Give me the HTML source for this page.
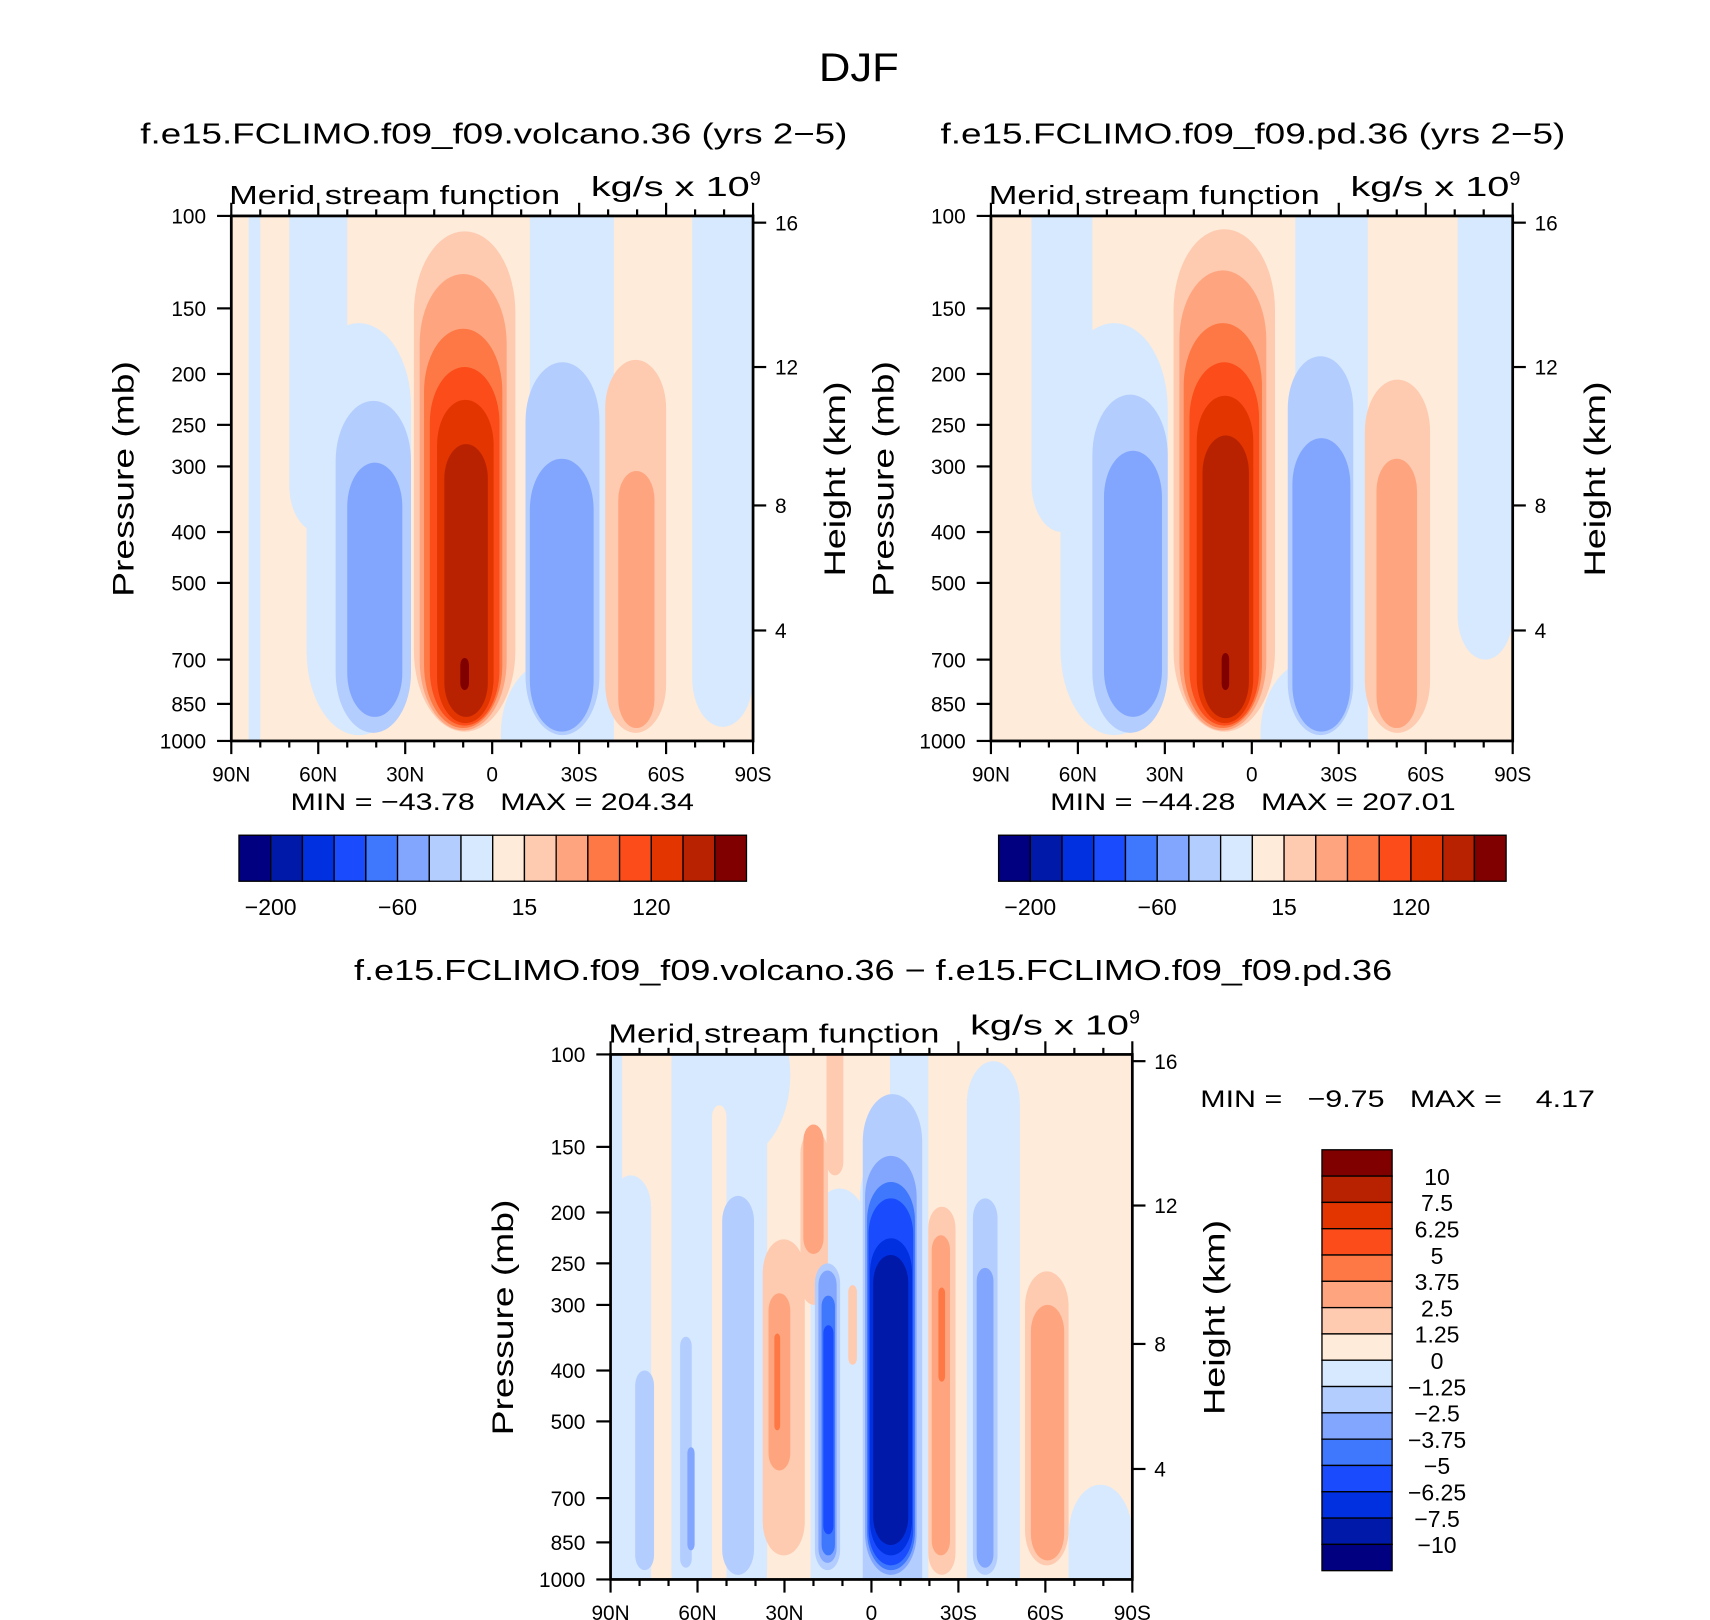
<!DOCTYPE html>
<html><head><meta charset="utf-8"><style>
html,body{margin:0;padding:0;background:#fff;}
svg{display:block;font-family:"Liberation Sans",sans-serif;}
</style></head><body>
<svg id="fig" xmlns="http://www.w3.org/2000/svg" width="1710" height="1620" viewBox="0 0 1560 1478" preserveAspectRatio="none">
<rect width="1560" height="1478" fill="#fff"/>
<text x="747" y="74" font-size="36" textLength="73" lengthAdjust="spacingAndGlyphs">DJF</text>
<text x="128" y="131" font-size="26" textLength="645" lengthAdjust="spacingAndGlyphs">f.e15.FCLIMO.f09_f09.volcano.36 (yrs 2−5)</text>
<text x="858" y="131" font-size="26" textLength="570" lengthAdjust="spacingAndGlyphs">f.e15.FCLIMO.f09_f09.pd.36 (yrs 2−5)</text>
<text x="323" y="894" font-size="26" textLength="947" lengthAdjust="spacingAndGlyphs">f.e15.FCLIMO.f09_f09.volcano.36 − f.e15.FCLIMO.f09_f09.pd.36</text>
<text x="265" y="739" font-size="22" xml:space="preserve" textLength="368" lengthAdjust="spacingAndGlyphs">MIN = −43.78   MAX = 204.34</text>
<text x="958" y="739" font-size="22" xml:space="preserve" textLength="370" lengthAdjust="spacingAndGlyphs">MIN = −44.28   MAX = 207.01</text>
<text x="1095" y="1010" font-size="22" xml:space="preserve" textLength="360" lengthAdjust="spacingAndGlyphs">MIN =   −9.75   MAX =    4.17</text>
<g id="layer"></g>
</svg>
<script>
const levelColors = ["#000080","#0019a8","#0030e0","#1a4cfd","#3f77fd","#82a6fd","#b3cdfe","#d7e9fe","#feebd9","#fecab0","#fea57f","#fd7845","#fb4c19","#e23500","#b82200","#800000"];
const latTicks = [90,60,30,0,-30,-60,-90];
const latLabels = ["90N","60N","30N","0","30S","60S","90S"];
const presTicks = [100,150,200,250,300,400,500,700,850,1000];
const heightKm = [4,8,12,16];
const heightP = [616,356,194,103];
const topCbLabels = ["−200","−60","15","120"];
const diffCbLabels = ["10","7.5","6.25","5","3.75","2.5","1.25","0","−1.25","−2.5","−3.75","−5","−6.25","−7.5","−10"];
// blobs: [level, latNorth, latSouth, pTop, pBottom]
const volcanoBlobs = [
 [7,84,80,100,1000],[7,70,50,100,400],[7,64,28,160,975],[6,54,28,225,965],[5,50,31,295,900],
 [7,-13,-42,100,1000],[7,-3,-40,700,1000],[6,-11.5,-37,190,975],[5,-13,-35,290,960],
 [7,-69,-90,100,940],[9,-39,-60,188,965],[10,-43.5,-56,306,945],
 [9,27,-8,107,960],[10,25,-5,129,955],[11,23.5,-3.5,164,945],[12,21.5,-2.5,194,935],
 [13,19,-0.5,224,925],[14,16.5,1.5,272,900],[15,11,8,695,800]];
const pdBlobs = [
 [7,76,55,100,400],[7,66,29,160,975],[6,55,29,219,965],[5,51,31,280,900],
 [7,-15,-40,100,1000],[7,-3,-40,700,1000],[6,-12.4,-35,185,975],[5,-14,-34,265,960],
 [7,-71,-90,100,700],[9,-39,-61.5,205,965],[10,-43,-57,290,945],
 [9,27,-8,106,960],[10,25,-5,127,955],[11,23.5,-3.5,160,945],[12,21.5,-2.5,190,935],
 [13,19,-0.5,220,925],[14,17,1,262,905],[15,10.4,7.8,680,800]];
const diffBlobs = [
 [7,90,86,100,1000],[7,90,76,170,1000],[7,69,28,100,160],[7,69,36,100,1000],[8,55,50,125,1000],
 [6,81.5,75,400,960],[6,66,62,345,950],[6,51.5,40.5,186,980],[5,63.5,61,560,880],
 [7,21,1,180,1000],[7,-6.4,-19.6,100,1000],[7,4,-18,150,1000],
 [9,15.5,9.7,100,170],[9,24.5,15,140,300],[9,37.5,23,225,900],
 [10,23.5,16.5,136,240],[10,35.5,28,285,620],[11,33.5,31.5,340,520],
 [6,19.5,10.8,250,960],[5,18.3,12,258,930],[4,17.2,12.6,288,900],[3,16.6,13.1,328,820],
 [9,8,5,275,390],
 [6,3,-17.5,119,1000],[5,2.2,-15.6,156,980],[4,1.5,-15,175,960],[3,1,-14.4,188,940],[2,0.5,-14,224,900],[1,-0.6,-12.7,241,860],
 [9,-19.6,-29,195,980],[10,-20.8,-27.1,221,900],[11,-23.1,-25.4,278,420],
 [7,-32.9,-51.2,103,1000],[6,-35,-43.5,188,980],[5,-36.3,-42.1,255,950],
 [9,-53,-68,259,940],[10,-55,-66.5,300,920],[7,-68,-90,660,1000]];

const NS="http://www.w3.org/2000/svg";
const layer=document.getElementById('layer');
function mk(tag,attrs,parent){const e=document.createElementNS(NS,tag);for(const k in attrs)e.setAttribute(k,attrs[k]);(parent||layer).appendChild(e);return e;}
const W=476,H=479;

function panel(name,x0,y0,blobs){
 const xS=lat=>x0+(90-lat)/180*W;
 const yS=p=>y0+Math.log10(p/100)*H;
 const g=mk('g',{});
 
 
 const cp=mk('clipPath',{id:'clip-'+name},g);
 mk('rect',{x:x0,y:y0,width:W,height:H},cp);
 const plot=mk('g',{'clip-path':'url(#clip-'+name+')'},g);
 const bg=mk('rect',{x:x0,y:y0,width:W,height:H,fill:levelColors[8]},plot);
 
 
 blobs.forEach(b=>{
  const xa=xS(b[1]),xb=xS(b[2]);
  let yt=yS(b[3]),yb=yS(b[4]);
  if(b[3]<=100)yt-=60; if(b[4]>=1000)yb+=60;
  const rx=(xb-xa)/2, ry=Math.min(rx*1.6,(yb-yt)/2);
  const r=mk('rect',{x:xa,y:yt,width:xb-xa,height:yb-yt,rx:rx,ry:ry,fill:levelColors[b[0]]},plot);
  
  
 });
 const fr=mk('rect',{x:x0,y:y0,width:W,height:H,fill:'none',stroke:'#000','stroke-width':2.5},g);
 
 
 for(let lat=90;lat>=-90;lat-=10){
  const x=xS(lat),len=(lat%30===0)?12:6;
  mk('line',{x1:x,x2:x,y1:y0,y2:y0-len,stroke:'#000','stroke-width':2},g);
  mk('line',{x1:x,x2:x,y1:y0+H,y2:y0+H+len,stroke:'#000','stroke-width':2},g);
 }
 latTicks.forEach((lat,i)=>{
  const t=mk('text',{x:xS(lat),y:y0+H+37,'font-size':19,'text-anchor':'middle'},g);
  t.textContent=latLabels[i];
  
  
 });
 presTicks.forEach(p=>{
  const y=yS(p);
  mk('line',{x1:x0,x2:x0-13,y1:y,y2:y,stroke:'#000','stroke-width':2},g);
  const t=mk('text',{x:x0-23,y:y+7,'font-size':19,'text-anchor':'end'},g);
  t.textContent=p;
  
  
 });
 heightKm.forEach((km,i)=>{
  const y=yS(heightP[i]);
  mk('line',{x1:x0+W,x2:x0+W+12,y1:y,y2:y,stroke:'#000','stroke-width':2},g);
  const t=mk('text',{x:x0+W+20,y:y+7,'font-size':19},g);
  t.textContent=km;
  
  
 });
 const yl=mk('text',{transform:`translate(${x0-89},${y0+240}) rotate(-90)`,'font-size':27,'text-anchor':'middle',textLength:215,lengthAdjust:'spacingAndGlyphs'},g);
 yl.textContent='Pressure (mb)';
 
 
 const hl=mk('text',{transform:`translate(${x0+W+84},${y0+240}) rotate(-90)`,'font-size':27,'text-anchor':'middle',textLength:178,lengthAdjust:'spacingAndGlyphs'},g);
 hl.textContent='Height (km)';
 
 
 const st=mk('text',{x:x0-2,y:y0-11,'font-size':24,textLength:302,lengthAdjust:'spacingAndGlyphs'},g);
 st.textContent='Merid stream function';
 
 
 const un=mk('text',{x:x0+328,y:y0-18,'font-size':25},g);
 
 
 const ut=mk('tspan',{textLength:145,lengthAdjust:'spacingAndGlyphs'},un); ut.textContent='kg/s x 10';
 const sup=mk('tspan',{dy:-10,'font-size':18},un); sup.textContent='9';
}
panel('volcano',211,197,volcanoBlobs);
panel('pd',904,197,pdBlobs);
panel('diff',557,962,diffBlobs);

function hbar(name,x0){
 const g=mk('g',{});
 
 
 const bw=463/16;
 levelColors.forEach((c,i)=>{
  const r=mk('rect',{x:x0+i*bw,y:762,width:bw,height:42,fill:c,stroke:'#000','stroke-width':1.2},g);
  
  
 });
 topCbLabels.forEach((l,i)=>{
  const t=mk('text',{x:x0+(1+4*i)*bw,y:835,'font-size':21,'text-anchor':'middle'},g);
  t.textContent=l;
  
  
 });
}
hbar('volcano',218);hbar('pd',911);

(function(){
 const g=mk('g',{});
 
 
 const x0=1206,y0=1049,bh=384/16;
 for(let i=0;i<16;i++){
  const r=mk('rect',{x:x0,y:y0+i*bh,width:64,height:bh,fill:levelColors[15-i],stroke:'#000','stroke-width':1.2},g);
  
  
 }
 diffCbLabels.forEach((l,i)=>{
  const t=mk('text',{x:1311,y:y0+(i+1)*bh+8,'font-size':21,'text-anchor':'middle'},g);
  t.textContent=l;
  
  
 });
})();
</script>
</body></html>
